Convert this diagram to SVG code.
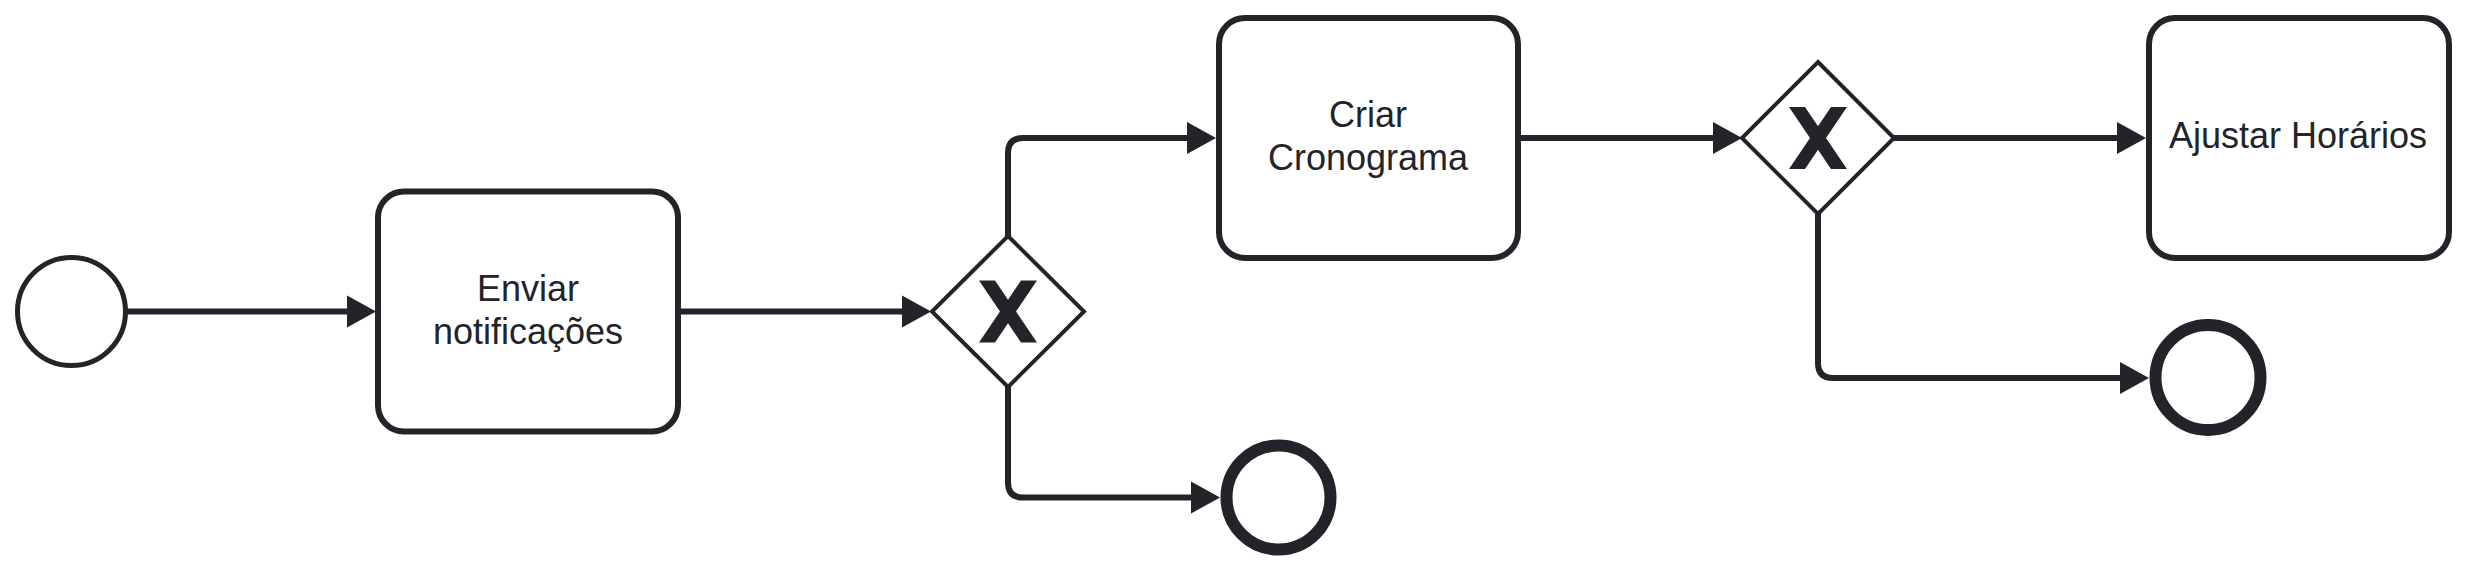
<svg xmlns="http://www.w3.org/2000/svg" width="2466" height="570" viewBox="0 0 2466 570">
  <style>
    .task { fill: #ffffff; stroke: #22242a; stroke-width: 6; }
    .gw { fill: #ffffff; stroke: #22242a; stroke-width: 4; stroke-linejoin: miter; }
    .start { fill: #ffffff; stroke: #22242a; stroke-width: 5; }
    .end { fill: #ffffff; stroke: #22242a; stroke-width: 12; }
    .flow { fill: none; stroke: #22242a; stroke-width: 6; marker-end: url(#arrow); }
    .lbl { font-family: "Liberation Sans", Arial, sans-serif; font-size: 36px; fill: #22242a; text-anchor: middle; }
    .xm { fill: #22242a; }
  </style>
  <defs>
    <marker id="arrow" markerUnits="userSpaceOnUse" markerWidth="32" markerHeight="34" viewBox="0 0 32 34" refX="15" refY="17" orient="auto">
      <path d="M1,1 L30,17 L1,33 Z" fill="#22242a"/>
    </marker>
    <polygon id="xmark" points="-29,-31 -13,-31 0,-11.8 13,-31 29,-31 8,0 29,31 13,31 0,11.8 -13,31 -29,31 -8,0"/>
  </defs>
  <rect width="2466" height="570" fill="#ffffff"/>

  <g id="connectors">
    <path class="flow" d="M126.5,311.5 H361"/>
    <path class="flow" d="M681,311.5 H916"/>
    <path class="flow" d="M1008,236 V153 Q1008,138 1023,138 H1201"/>
    <path class="flow" d="M1008,387 V482.5 Q1008,497.5 1023,497.5 H1205"/>
    <path class="flow" d="M1521,138 H1727"/>
    <path class="flow" d="M1894,138 H2131"/>
    <path class="flow" d="M1818,214 V363 Q1818,378 1833,378 H2134"/>
  </g>

  <g id="start">
    <circle class="start" cx="71.5" cy="311.5" r="54"/>
  </g>

  <g id="task-enviar">
    <rect class="task" x="378" y="191.5" width="300" height="240" rx="26" ry="26"/>
    <text class="lbl" x="528" y="301">Enviar</text>
    <text class="lbl" x="528" y="343.5">notificações</text>
  </g>

  <g id="gateway-1">
    <polygon class="gw" points="1008,236 1084,311.5 1008,387 932,311.5"/>
    <use href="#xmark" class="xm" transform="translate(1008,311.5)"/>
  </g>

  <g id="end-1">
    <circle class="end" cx="1278.5" cy="497.5" r="52"/>
  </g>

  <g id="task-criar">
    <rect class="task" x="1219" y="18" width="299" height="240" rx="26" ry="26"/>
    <text class="lbl" x="1368" y="127">Criar</text>
    <text class="lbl" x="1368" y="170">Cronograma</text>
  </g>

  <g id="gateway-2">
    <polygon class="gw" points="1818,62 1894,138 1818,214 1742,138"/>
    <use href="#xmark" class="xm" transform="translate(1818,138)"/>
  </g>

  <g id="task-ajustar">
    <rect class="task" x="2149" y="18" width="300" height="240" rx="26" ry="26"/>
    <text class="lbl" x="2298" y="148">Ajustar Horários</text>
  </g>

  <g id="end-2">
    <circle class="end" cx="2208" cy="377.5" r="52.5"/>
  </g>
</svg>
